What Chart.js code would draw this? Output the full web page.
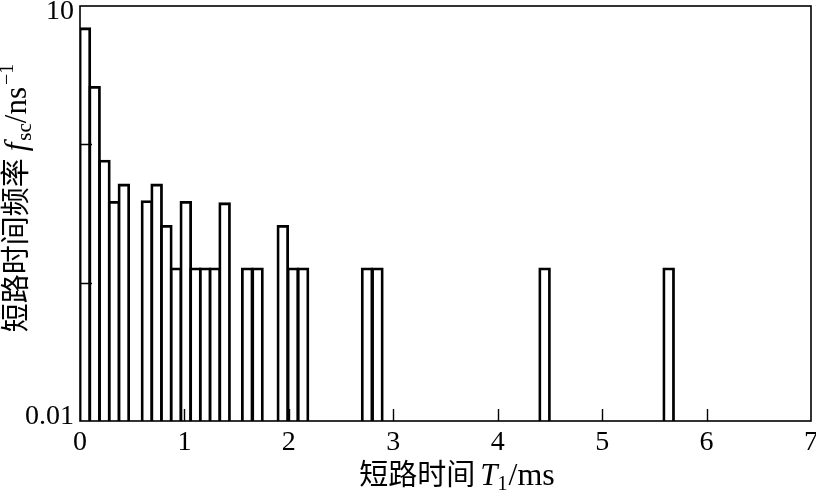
<!DOCTYPE html>
<html>
<head>
<meta charset="utf-8">
<script src="https://cdn.jsdelivr.net/npm/chart.js@4/dist/chart.umd.min.js"></script>
<style>
  html, body { margin: 0; padding: 0; background: #fff; }
  #wrap { width: 816px; height: 496px; position: relative; }
</style>
</head>
<body>
<div id="wrap"><canvas id="c" width="816" height="496"></canvas></div>
<script>
// ---- data ----
// centres of the histogram bins (short-circuit time T1, ms)
const binCenters = [0.047, 0.140, 0.234, 0.327, 0.420,
                    0.641, 0.734, 0.827, 0.920, 1.013, 1.106, 1.199, 1.292, 1.385,
                    1.601, 1.700,
                    1.942, 2.039, 2.136,
                    2.749, 2.848,
                    4.449,
                    5.637];
// short-circuit time frequency f_sc (ns^-1)
const frequencies = [6.85, 2.58, 0.757, 0.381, 0.508,
                     0.385, 0.508, 0.255, 0.126, 0.381, 0.126, 0.126, 0.126, 0.372,
                     0.126, 0.126,
                     0.255, 0.126, 0.126,
                     0.126, 0.126,
                     0.126,
                     0.126];
const xTickValues = [0, 1, 2, 3, 4, 5, 6, 7];
const yTickValues = [0.01, 0.1, 1, 10];
const yTickLabels = ['0.01', '', '', '10'];

const FONT = '"Liberation Serif", "Noto Sans CJK SC", serif';

function drawRuns(ctx, runs, cx, cy, rotate) {
  ctx.save();
  ctx.translate(cx, cy);
  if (rotate) ctx.rotate(-Math.PI / 2);
  ctx.fillStyle = '#000';
  ctx.textBaseline = 'middle';
  ctx.textAlign = 'left';
  let total = 0;
  runs.forEach(r => {
    ctx.font = (r.italic ? 'italic ' : '') + r.size + 'px ' + FONT;
    r.w = ctx.measureText(r.text).width + (r.gap || 0);
    total += r.w;
  });
  let x = -total / 2;
  runs.forEach(r => {
    ctx.font = (r.italic ? 'italic ' : '') + r.size + 'px ' + FONT;
    ctx.fillText(r.text, x + (r.gap || 0), r.dy || 0);
    x += r.w;
  });
  ctx.restore();
}

const framePlugin = {
  id: 'frame',
  afterDatasetsDraw(chart) {
    const {ctx, chartArea: a, scales} = chart;
    ctx.save();
    ctx.strokeStyle = '#000';
    ctx.lineWidth = 1.4;
    // inward tick marks
    ctx.beginPath();
    scales.x.ticks.forEach(t => {
      if (t.value <= scales.x.min || t.value >= scales.x.max) return;
      const px = Math.round(scales.x.getPixelForValue(t.value)) + 0.5;
      ctx.moveTo(px, a.bottom);
      ctx.lineTo(px, a.bottom - 12);
    });
    scales.y.ticks.forEach(t => {
      if (t.value <= scales.y.min || t.value >= scales.y.max) return;
      const py = Math.round(scales.y.getPixelForValue(t.value)) + 0.5;
      ctx.moveTo(a.left, py);
      ctx.lineTo(a.left + 12, py);
    });
    ctx.stroke();
    // frame
    ctx.lineWidth = 1.6;
    ctx.strokeRect(a.left, a.top, a.right - a.left, a.bottom - a.top);
    ctx.restore();

    // axis titles
    drawRuns(ctx, [
      {text: '短路时间', size: 29},
      {text: 'T', size: 31, italic: true, gap: 5},
      {text: '1', size: 20, dy: 8},
      {text: '/ms', size: 32, gap: 1}
    ], 457, 477, false);
    drawRuns(ctx, [
      {text: '短路时间频率', size: 29},
      {text: 'f', size: 31, italic: true, gap: 7},
      {text: 'sc', size: 21, dy: 7, gap: 2},
      {text: '/ns', size: 31},
      {text: '−1', size: 20, dy: -10, gap: 2}
    ], 18, 198, true);
  }
};

new Chart(document.getElementById('c'), {
  type: 'bar',
  data: {
    datasets: [{
      data: binCenters.map((x, i) => ({x: x, y: frequencies[i]})),
      backgroundColor: '#ffffff',
      borderColor: '#000000',
      borderWidth: 2.8,
      inflateAmount: 1.4,
      borderSkipped: 'start',
      barPercentage: 1,
      categoryPercentage: 1
    }]
  },
  options: {
    responsive: false,
    animation: false,
    events: [],
    layout: {padding: {top: 6, right: 5, bottom: 0, left: 0}},
    plugins: {legend: {display: false}, tooltip: {enabled: false}, title: {display: false}},
    scales: {
      x: {
        type: 'linear',
        min: 0, max: 7,
        offset: false,
        afterBuildTicks: s => { s.ticks = xTickValues.map(v => ({value: v})); },
        afterFit: s => { s.height = 75; s.paddingLeft = 0; s.paddingRight = 0; },
        grid: {display: false, offset: false, drawTicks: false},
        border: {display: false},
        ticks: {
          color: '#000',
          padding: 5,
          maxRotation: 0,
          autoSkip: false,
          font: {family: FONT, size: 28},
          callback: v => String(v)
        }
      },
      y: {
        type: 'logarithmic',
        min: 0.01, max: 10,
        afterBuildTicks: s => { s.ticks = yTickValues.map(v => ({value: v})); },
        afterFit: s => { s.width = 80; s.paddingTop = 0; s.paddingBottom = 0; },
        grid: {display: false, drawTicks: false},
        border: {display: false},
        ticks: {
          color: '#000',
          padding: 6,
          autoSkip: false,
          // top label nudged down, bottom label nudged up (as in the reference)
          font: c => {
            const v = c.tick ? c.tick.value : null;
            return {family: FONT, size: 28, lineHeight: v === 10 ? '11px' : (v === 0.01 ? '8px' : 1.2)};
          },
          callback: (v, i) => {
            const lab = yTickLabels[i];
            if (v === 10) return ['', lab];
            if (v === 0.01) return [lab, ''];
            return lab;
          }
        }
      }
    }
  },
  plugins: [framePlugin]
});
</script>
</body>
</html>
